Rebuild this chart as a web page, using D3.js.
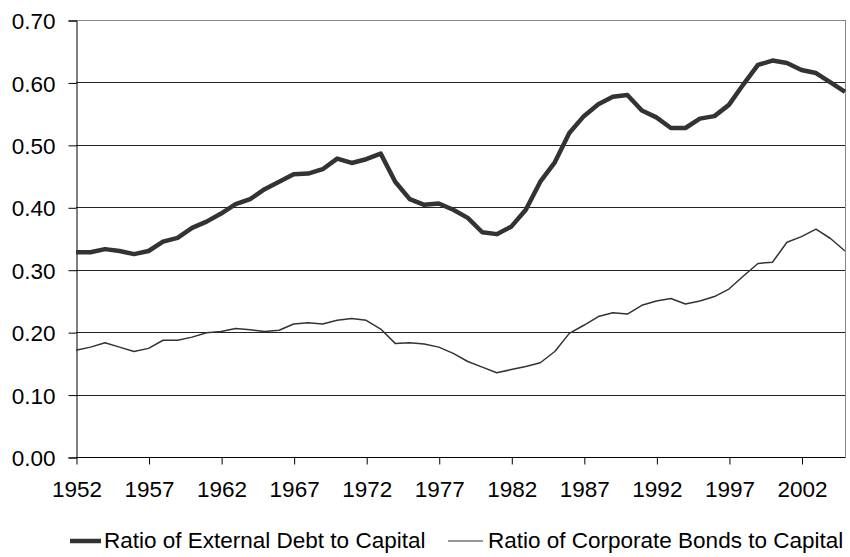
<!DOCTYPE html>
<html><head><meta charset="utf-8">
<script src="https://cdn.jsdelivr.net/npm/d3@7"></script>
<style>body{margin:0;background:#fff}svg{display:block}text{font-family:"Liberation Sans",Arial,sans-serif;fill:#000}</style>
</head><body><svg id="c" width="850" height="557"></svg>
<script>
const years = d3.range(1952, 2006);
const externalDebt = [0.328,0.328,0.333,0.330,0.325,0.330,0.345,0.351,0.367,0.377,0.390,0.405,0.413,0.429,0.441,0.453,0.454,0.461,0.478,0.471,0.477,0.486,0.441,0.413,0.404,0.406,0.396,0.383,0.360,0.357,0.369,0.396,0.441,0.472,0.519,0.546,0.565,0.577,0.580,0.555,0.544,0.527,0.527,0.542,0.546,0.564,0.597,0.628,0.635,0.631,0.620,0.615,0.600,0.585];
const corporateBonds = [0.171,0.176,0.183,0.176,0.169,0.174,0.187,0.187,0.192,0.199,0.201,0.206,0.204,0.201,0.203,0.213,0.215,0.213,0.219,0.222,0.219,0.205,0.182,0.183,0.181,0.176,0.166,0.153,0.144,0.135,0.140,0.145,0.151,0.169,0.198,0.211,0.225,0.231,0.229,0.243,0.250,0.254,0.245,0.250,0.257,0.269,0.290,0.310,0.312,0.344,0.353,0.365,0.350,0.330];
const yTicks = [0,0.1,0.2,0.3,0.4,0.5,0.6,0.7];
const xTicks = [1952,1957,1962,1967,1972,1977,1982,1987,1992,1997,2002];
const seriesNames = ["Ratio of External Debt to Capital","Ratio of Corporate Bonds to Capital"];

const svg = d3.select("#c");
const L = 76, R = 845, T = 20, B = 457;
const x = d3.scaleLinear().domain([1952, 2005]).range([L, R]);
const y = d3.scaleLinear().domain([0, 0.7]).range([B, T]);
const fs = 22.5;

// gridlines
svg.append("g").selectAll("line").data(yTicks.filter(d => d > 0)).join("line")
  .attr("x1", L).attr("x2", R)
  .attr("y1", d => Math.round(y(d)) + 0.5).attr("y2", d => Math.round(y(d)) + 0.5)
  .attr("stroke", d => d === 0.7 ? "#888" : "#222").attr("stroke-width", 1);
// right border
svg.append("line").attr("x1", R + 0.5).attr("x2", R + 0.5).attr("y1", T).attr("y2", B)
  .attr("stroke", "#888").attr("stroke-width", 1);

// y axis
const yAxis = svg.append("g").attr("transform", `translate(${L + 0.5},0.5)`)
  .call(d3.axisLeft(y).tickValues(yTicks).tickFormat(d3.format(".2f")).tickSize(8).tickPadding(13));
// x axis
const xAxis = svg.append("g").attr("transform", `translate(0.5,${B + 0.5})`)
  .call(d3.axisBottom(x).tickValues(xTicks).tickFormat(d3.format("d")).tickSize(7).tickPadding(17));
[yAxis, xAxis].forEach(a => {
  a.select(".domain").attr("stroke", "#000");
  a.selectAll(".tick line").attr("stroke", "#000");
  a.selectAll("text").attr("font-size", fs).attr("font-family", '"Liberation Sans",Arial,sans-serif').attr("fill", "#000");
});
yAxis.selectAll("text").attr("dy", "0.36em");
xAxis.select(".domain").attr("d", `M${L},0H${R}`);

const line = d3.line().x((d, i) => x(years[i])).y(d => y(d));
svg.append("path").datum(corporateBonds).attr("d", line)
  .attr("fill", "none").attr("stroke", "#333").attr("stroke-width", 1.5).attr("stroke-linejoin", "round");
svg.append("path").datum(externalDebt).attr("d", line)
  .attr("fill", "none").attr("stroke", "#333").attr("stroke-width", 4.5).attr("stroke-linejoin", "round");

// legend
const lg = svg.append("g");
const items = [
  {name: seriesNames[0], w: 4.5, x0: 70, x1: 101, tx: 104},
  {name: seriesNames[1], w: 1.2, x0: 448, x1: 483, tx: 488}
];
items.forEach(it => {
  lg.append("line").attr("x1", it.x0).attr("x2", it.x1).attr("y1", 541).attr("y2", 541)
    .attr("stroke", "#333").attr("stroke-width", it.w);
  lg.append("text").attr("x", it.tx).attr("y", 548).attr("font-size", fs).text(it.name);
});
</script></body></html>
